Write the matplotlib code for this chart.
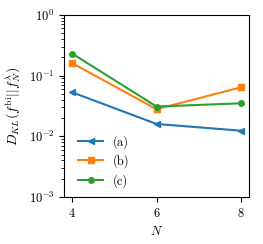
import matplotlib
matplotlib.use('Agg')
import matplotlib.pyplot as plt

plt.rcParams['font.family'] = 'serif'
plt.rcParams['font.serif'] = ['cmr10']
plt.rcParams['mathtext.fontset'] = 'cm'
plt.rcParams['axes.formatter.use_mathtext'] = True
plt.rcParams['font.size'] = 9

# Data
N = [4, 6, 8]
kl_a = [0.053, 0.016, 0.0124]
kl_b = [0.16, 0.028, 0.064]
kl_c = [0.23, 0.031, 0.035]

fig = plt.figure(figsize=(2.63, 2.44), dpi=100)
ax = fig.add_axes([64 / 263, 1 - 197 / 244, 185 / 263, 182 / 244])

ax.plot(N, kl_a, marker='<', markersize=4, lw=1.5, label='(a)')
ax.plot(N, kl_b, marker='s', markersize=4, lw=1.5, label='(b)')
ax.plot(N, kl_c, marker='o', markersize=4, lw=1.5, label='(c)')

ax.set_yscale('log')
ax.set_ylim(1e-3, 1e0)
ax.set_xticks(N)
ax.set_xlabel(r'$N$')
ax.set_ylabel(r'$D_{KL}(f^{\rm bi}||f_N^{\lambda})$', fontsize=10)
ax.legend(loc='lower left', frameon=False, bbox_to_anchor=(0.015, -0.01),
          labelspacing=0.45)

fig.savefig('out.png', dpi=100)
